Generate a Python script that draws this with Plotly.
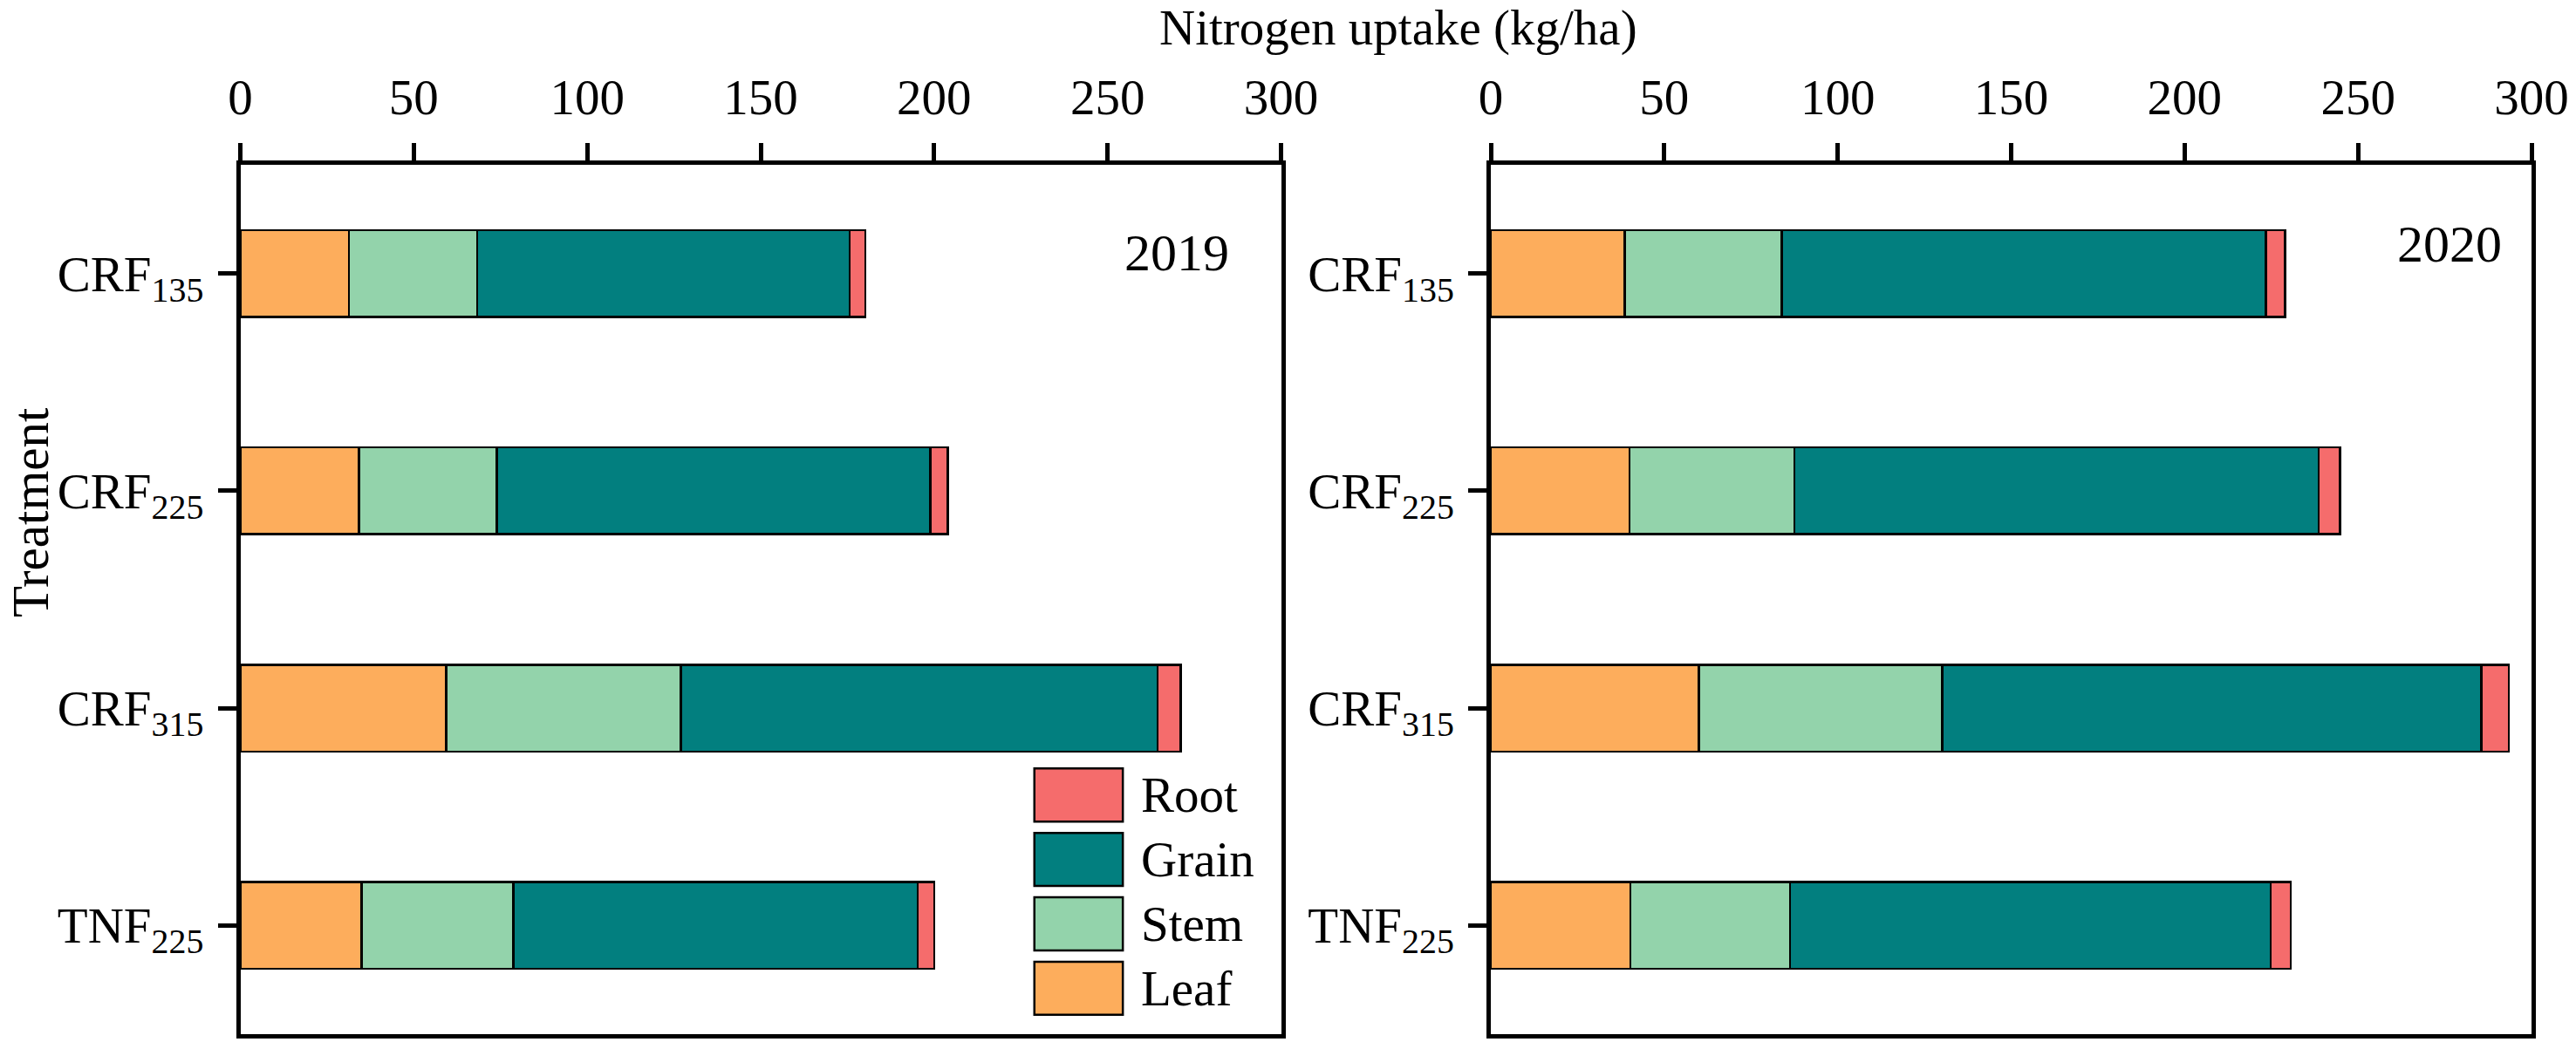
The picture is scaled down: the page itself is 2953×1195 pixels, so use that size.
import plotly.graph_objects as go

# data (kg/ha)
treatments = ["CRF135", "CRF225", "CRF315", "TNF225"]
tick_labels = ["CRF<sub>135</sub>", "CRF<sub>225</sub>", "CRF<sub>315</sub>", "TNF<sub>225</sub>"]
tick_values = [0, 50, 100, 150, 200, 250, 300]

parts = ["Leaf", "Stem", "Grain", "Root"]
colors = ["#FDAD5C", "#93D3AB", "#027F7F", "#F56C6C"]

leaf_2019 = [31.3, 34.2, 59.4, 34.9]
stem_2019 = [37.0, 39.7, 67.6, 43.8]
grain_2019 = [107.3, 125.0, 137.4, 116.6]
root_2019 = [4.6, 5.1, 6.7, 4.8]

leaf_2020 = [38.6, 40.0, 60.0, 40.2]
stem_2020 = [45.3, 47.5, 70.1, 46.1]
grain_2020 = [139.5, 151.1, 155.4, 138.5]
root_2020 = [5.5, 6.2, 8.0, 5.8]

years = ["2019", "2020"]
series = {
    "2019": [leaf_2019, stem_2019, grain_2019, root_2019],
    "2020": [leaf_2020, stem_2020, grain_2020, root_2020],
}

# layout
W, H = 2953, 1195
FONT = "Liberation Serif"
FS = 57
x_domains = [[275.5 / W, 1468.5 / W], [1709 / W, 2902 / W]]
y_domain = [9 / H, 1006 / H]

fig = go.Figure()

for i, year in enumerate(years):
    ax = "" if i == 0 else str(i + 1)
    for part, color, vals in zip(parts, colors, series[year]):
        fig.add_trace(go.Bar(
            x=vals, y=treatments, orientation="h", name=part,
            marker=dict(color=color, line=dict(color="black", width=2.5)),
            width=0.4, showlegend=False,
            xaxis="x" + ax, yaxis="y" + ax,
        ))

    fig.update_layout({
        "xaxis" + ax: dict(
            domain=x_domains[i], anchor="y" + ax, side="top", range=[0, 300],
            tickvals=tick_values, ticks="outside", ticklen=20, tickwidth=5,
            tickcolor="black", showline=True, linewidth=5, linecolor="black",
            mirror=True, showgrid=False, zeroline=False, ticklabelstandoff=10,
            automargin=False,
            tickfont=dict(family=FONT, size=FS, color="black"),
        ),
        "yaxis" + ax: dict(
            domain=y_domain, anchor="x" + ax, range=[3.5, -0.5],
            categoryorder="array", categoryarray=treatments,
            tickvals=treatments, ticktext=tick_labels,
            ticks="outside", ticklen=21, tickwidth=5, tickcolor="black",
            showline=True, linewidth=4.5, linecolor="black", mirror=True,
            showgrid=False, zeroline=False, ticklabelstandoff=5,
            automargin=False,
            tickfont=dict(family=FONT, size=FS, color="black"),
        ),
    })

    # year label in upper right corner
    fig.add_annotation(
        text=year, xref="x" + ax + " domain", yref="y" + ax + " domain",
        x=[0.90, 0.921][i], y=[0.899, 0.909][i], showarrow=False,
        xanchor="center", yanchor="middle",
        font=dict(family=FONT, size=60, color="black"),
    )

# custom legend inside the 2019 panel (Root on top)
box_x0, box_x1 = 0.763, 0.848
top, pitch, box_h = 0.3056, 0.0741, 0.0611
for k, (part, color) in enumerate(zip(parts[::-1], colors[::-1])):
    y1 = top - k * pitch
    fig.add_shape(
        type="rect", xref="x domain", yref="y domain",
        x0=box_x0, x1=box_x1, y0=y1 - box_h, y1=y1,
        fillcolor=color, line=dict(color="black", width=2.5),
    )
    fig.add_annotation(
        text=part, xref="x domain", yref="y domain",
        x=0.864, y=y1 - box_h / 2, xanchor="left", yanchor="middle",
        showarrow=False, font=dict(family=FONT, size=FS, color="black"),
    )

# shared titles
fig.add_annotation(
    text="Nitrogen uptake (kg/ha)", xref="paper", yref="paper",
    x=1603 / W, y=1 - 32 / H, xanchor="center", yanchor="middle",
    showarrow=False, font=dict(family=FONT, size=FS, color="black"),
)
fig.add_annotation(
    text="Treatment", xref="paper", yref="paper",
    x=0, y=1 - 588 / H, textangle=-90, xanchor="left", yanchor="middle",
    showarrow=False, font=dict(family=FONT, size=59, color="black"),
)

fig.update_layout(
    width=W, height=H, margin=dict(l=0, r=0, t=0, b=0, autoexpand=False),
    barmode="stack", plot_bgcolor="white", paper_bgcolor="white",
    showlegend=False,
)

# page body margin would push the fixed-size figure out of the window
fig.write_html("out.html", config={"displayModeBar": False},
               post_script="document.body.style.margin = '0';")
